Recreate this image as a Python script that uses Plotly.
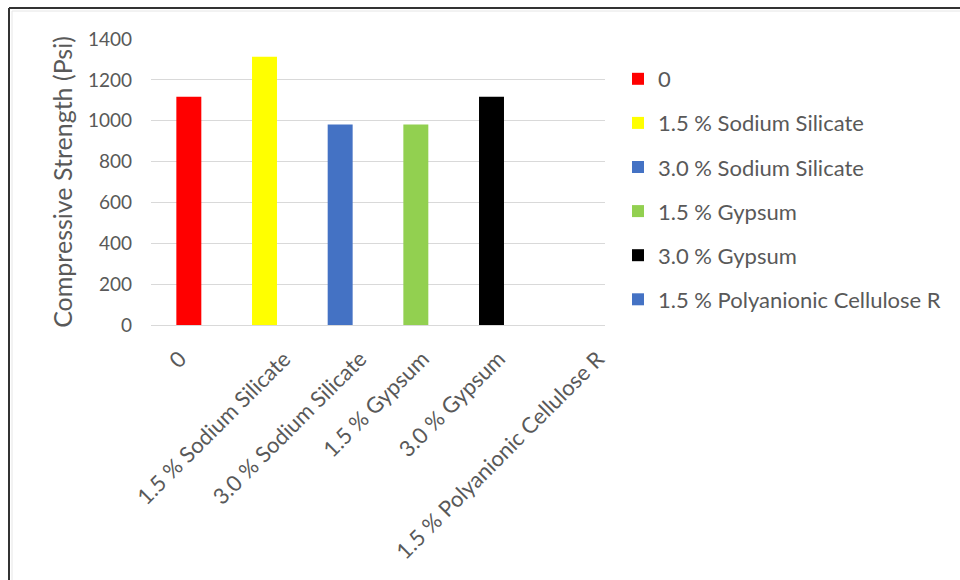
import plotly.graph_objects as go

categories = ["0", "1.5 % Sodium Silicate", "3.0 % Sodium Silicate", "1.5 % Gypsum",
              "3.0 % Gypsum", "1.5 % Polyanionic Cellulose R"]
values = [1117, 1313, 982, 982, 1117, 0]
colors = ["#FF0000", "#FFFF00", "#4472C4", "#92D050", "#000000", "#4472C4"]
y_ticks = [0, 200, 400, 600, 800, 1000, 1200, 1400]

L, R, T, B = 151, 355, 39, 255
W, H = 960, 580
pw, ph = W - L - R, H - T - B
GREY = "#595959"
font = "Lato, 'Open Sans', sans-serif"

fig = go.Figure()
for i, (c, v, col) in enumerate(zip(categories, values, colors)):
    fig.add_trace(go.Bar(x=[c], y=[v], name=c, marker=dict(color=col, line=dict(width=0)),
                         width=0.33, legendgroup=str(i)))

# rotated category labels (Excel-like placement)
for c in categories:
    fig.add_annotation(x=c, xref="x", y=0, yref="paper", text=c, showarrow=False,
                       textangle=-45, xanchor="right", yanchor="top",
                       xshift=1.39 * len(c) + 4.6, yshift=-17,
                       font=dict(family=font, size=22, color=GREY))

fig.update_layout(
    width=W, height=H,
    margin=dict(l=L, r=R, t=T, b=B, autoexpand=False),
    paper_bgcolor="white", plot_bgcolor="white",
    barmode="overlay",
    font=dict(family=font, color=GREY, size=20),
    showlegend=True,
    legend=dict(x=(618 - L) / pw, y=(T - 58) / ph + 1, xanchor="left", yanchor="top",
                font=dict(size=22, color=GREY), traceorder="grouped",
                tracegroupgap=12.5, bgcolor="rgba(0,0,0,0)"),
    xaxis=dict(categoryorder="array", categoryarray=categories, showticklabels=False,
               showgrid=False, showline=False, ticks="", range=[-0.5, 5.5]),
    yaxis=dict(range=[0, 1400], tickvals=y_ticks, showgrid=True, gridcolor="#D9D9D9",
               gridwidth=1, zeroline=True, zerolinecolor="#D9D9D9", zerolinewidth=1,
               tickfont=dict(size=19, color=GREY), ticks="", ticklen=0,
               ticklabelstandoff=18,
               title=dict(text="Compressive Strength (Psi)", font=dict(size=25, color=GREY),
                          standoff=8)),
)

def px_x(p):
    return (p - L) / pw

def px_y(p):
    return 1 - (p - T) / ph

fig.add_shape(type="line", xref="paper", yref="paper", x0=px_x(9), x1=px_x(960),
              y0=px_y(8), y1=px_y(8), line=dict(color="#333333", width=2))
fig.add_shape(type="line", xref="paper", yref="paper", x0=px_x(9), x1=px_x(9),
              y0=px_y(8), y1=px_y(580), line=dict(color="#333333", width=2))
fig.add_shape(type="line", xref="paper", yref="paper", x0=px_x(12), x1=px_x(960),
              y0=px_y(11), y1=px_y(11), line=dict(color="#E6E6E6", width=1))
fig.add_shape(type="line", xref="paper", yref="paper", x0=px_x(12), x1=px_x(12),
              y0=px_y(11), y1=px_y(580), line=dict(color="#E6E6E6", width=1))

fig.write_html("out.html")
